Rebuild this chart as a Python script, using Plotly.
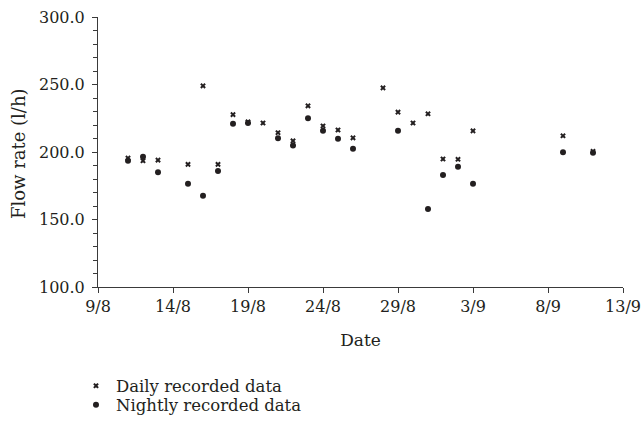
import plotly.graph_objects as go

# Flow rate readings (l/h), one value per recording day
daily_dates = ["2014-08-11", "2014-08-12", "2014-08-13", "2014-08-15", "2014-08-16",
               "2014-08-17", "2014-08-18", "2014-08-19", "2014-08-20", "2014-08-21",
               "2014-08-22", "2014-08-23", "2014-08-24", "2014-08-25", "2014-08-26",
               "2014-08-28", "2014-08-29", "2014-08-30", "2014-08-31", "2014-09-01",
               "2014-09-02", "2014-09-03", "2014-09-09", "2014-09-11"]
daily_flow = [195.5, 193.5, 194.0, 190.8, 249.0,
              190.8, 227.7, 222.3, 221.5, 214.3,
              208.2, 234.2, 219.3, 216.3, 210.5,
              247.5, 229.5, 221.5, 228.3, 194.8,
              194.6, 215.6, 212.0, 200.5]

nightly_dates = ["2014-08-11", "2014-08-12", "2014-08-13", "2014-08-15", "2014-08-16",
                 "2014-08-17", "2014-08-18", "2014-08-19", "2014-08-21", "2014-08-22",
                 "2014-08-23", "2014-08-24", "2014-08-25", "2014-08-26", "2014-08-29",
                 "2014-08-31", "2014-09-01", "2014-09-02", "2014-09-03", "2014-09-09",
                 "2014-09-11"]
nightly_flow = [193.5, 196.5, 185.0, 176.5, 167.5,
                186.0, 221.0, 221.5, 210.2, 204.8,
                225.0, 215.8, 209.8, 202.5, 215.8,
                157.7, 183.0, 189.0, 176.5, 199.8,
                199.5]

ink = "#231f20"
axis_ink = "#3a3a3a"
serif = "DejaVu Serif"

fig = go.Figure()
fig.add_trace(go.Scatter(
    x=daily_dates, y=daily_flow, mode="markers", name="Daily recorded data",
    marker=dict(symbol="x", size=5, color=ink, line=dict(width=0)),
    legend="legend",
))
fig.add_trace(go.Scatter(
    x=nightly_dates, y=nightly_flow, mode="markers", name="Nightly recorded data",
    marker=dict(symbol="circle", size=6, color=ink, line=dict(width=0)),
    legend="legend2",
))

legend_common = dict(
    xref="container", yref="container", xanchor="left", yanchor="middle",
    bgcolor="rgba(0,0,0,0)", borderwidth=0, itemwidth=30,
    font=dict(family=serif, size=16.5, color=ink),
)

fig.update_layout(
    width=644, height=424,
    margin=dict(l=97.5, r=21, t=17.3, b=137, autoexpand=False),
    paper_bgcolor="white", plot_bgcolor="white",
    font=dict(family=serif, size=16, color=ink),
    showlegend=True,
    legend=dict(x=0.118, y=1 - 386 / 424, **legend_common),
    legend2=dict(x=0.118, y=1 - 405 / 424, **legend_common),
    xaxis=dict(
        type="date",
        range=["2014-08-09", "2014-09-13"],
        tick0="2014-08-09", dtick=5 * 86400000,
        tickformat="%-d/%-m",
        showgrid=False, zeroline=False,
        showline=True, linecolor=axis_ink, linewidth=1,
        ticks="outside", ticklen=5, tickcolor=axis_ink,
        tickfont=dict(family=serif, size=16, color=ink),
        title=dict(text="Date", font=dict(family=serif, size=17, color=ink), standoff=18),
    ),
    yaxis=dict(
        range=[100, 300],
        tick0=100, dtick=50, tickformat=".1f",
        showgrid=False, zeroline=False,
        showline=True, linecolor=axis_ink, linewidth=1,
        ticks="outside", ticklen=5, tickcolor=axis_ink,
        ticklabelstandoff=4,
        minor=dict(dtick=10, ticks="outside", ticklen=4, tickcolor=axis_ink),
        tickfont=dict(family=serif, size=16, color=ink),
    ),
    annotations=[dict(
        text="Flow rate (l/h)", textangle=-90,
        xref="paper", yref="paper", x=-0.151, y=0.495,
        xanchor="center", yanchor="middle", showarrow=False,
        font=dict(family=serif, size=18, color=ink),
    )],
)

fig.write_html("out.html")
